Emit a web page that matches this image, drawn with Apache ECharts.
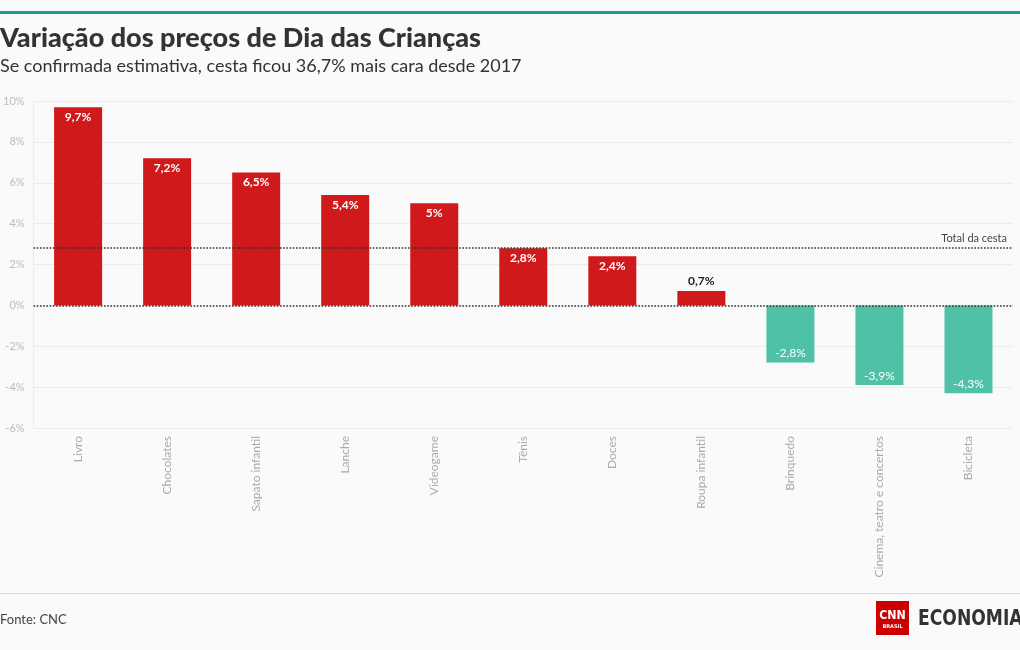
<!DOCTYPE html>
<html>
<head>
<meta charset="utf-8">
<script src="https://cdn.jsdelivr.net/npm/echarts@6/dist/echarts.min.js"></script>
<style>
html,body{margin:0;padding:0;background:#fafafa;}
#c{width:1020px;height:650px;}
</style>
</head>
<body>
<div id="c"></div>
<script>
const categories = ["Livro","Chocolates","Sapato infantil","Lanche","Videogame","Tênis","Doces","Roupa infantil","Brinquedo","Cinema, teatro e concertos","Bicicleta"];
const values = [9.7, 7.2, 6.5, 5.4, 5.0, 2.8, 2.4, 0.7, -2.8, -3.9, -4.3];
const totalCesta = 2.8;
const yTicks = [-6, -4, -2, 0, 2, 4, 6, 8, 10];

const FONT = 'Lato, "Noto Sans", sans-serif';
const fmt = v => String(v).replace('.', ',') + '%';

const chart = echarts.init(document.getElementById('c'), null, {renderer: 'canvas'});

const data = values.map(v => {
  const item = {value: v};
  if (v >= 0) {
    item.itemStyle = {color: '#d0191a'};
    if (v < 1.5) {
      item.label = {show: true, position: 'top', color: '#222', fontWeight: 'bold', distance: 4};
    } else {
      item.label = {show: true, position: 'insideTop', color: '#fff', fontWeight: 'bold', distance: 4};
    }
  } else {
    item.itemStyle = {color: '#4fc1a6'};
    item.label = {show: true, position: 'insideBottom', color: '#fff', fontWeight: 'normal', distance: 3};
  }
  return item;
});

chart.setOption({
  backgroundColor: '#fafafa',
  textStyle: {fontFamily: FONT},
  title: [{
    text: 'Variação dos preços de Dia das Crianças',
    left: 0, top: 25, padding: 0,
    textStyle: {fontFamily: FONT, fontSize: 27, fontWeight: 900, color: '#333'}
  }, {
    text: 'Se confirmada estimativa, cesta ficou 36,7% mais cara desde 2017',
    left: 0, top: 57, padding: 0,
    textStyle: {fontFamily: FONT, fontSize: 18, fontWeight: 'normal', color: '#333'}
  }, {
    text: 'Fonte: CNC',
    left: 0, top: 613, padding: 0,
    textStyle: {fontFamily: FONT, fontSize: 13, fontWeight: 'normal', color: '#444'}
  }],
  grid: {left: 33, right: 7, top: 101, bottom: 222, containLabel: false},
  xAxis: {
    type: 'category',
    data: categories,
    position: 'bottom',
    axisLine: {show: false},
    axisTick: {show: true, alignWithLabel: true, length: 5, lineStyle: {color: '#e3e3e3'}},
    axisLabel: {rotate: 90, color: '#aaa', fontSize: 12, margin: 8, fontFamily: FONT},
    splitLine: {show: false}
  },
  yAxis: {
    type: 'value',
    min: yTicks[0], max: yTicks[yTicks.length - 1], interval: 2,
    axisLine: {show: true, lineStyle: {color: '#ececec'}},
    axisTick: {show: false},
    axisLabel: {color: '#bbb', fontSize: 11, margin: 9, formatter: v => v + '%', fontFamily: FONT},
    splitLine: {show: true, lineStyle: {color: '#ececec'}}
  },
  series: [{
    type: 'bar',
    data: data,
    barWidth: 48,
    label: {show: true, fontSize: 12, fontFamily: FONT, formatter: p => fmt(p.value)},
    markLine: {
      silent: true,
      symbol: 'none',
      lineStyle: {type: 'dotted', color: '#333', width: 1.6},
      label: {show: false},
      data: [
        {yAxis: 0},
        {yAxis: totalCesta, label: {show: true, position: 'insideEndTop', formatter: 'Total da cesta', color: '#444', fontSize: 11, fontFamily: FONT, distance: [6, 4]}}
      ]
    }
  }],
  graphic: [
    {type: 'rect', shape: {x: 0, y: 11, width: 1020, height: 3}, style: {fill: '#1f9d86'}},
    {type: 'rect', shape: {x: 0, y: 593, width: 1020, height: 1}, style: {fill: '#dcdcdc'}},
    {type: 'rect', shape: {x: 876, y: 601, width: 33, height: 34}, style: {fill: '#cc0000'}},
    {type: 'text', x: 892.5, y: 616, scaleX: 0.85, style: {text: 'CNN', fill: '#fff', font: 'bold 13px "DejaVu Sans", sans-serif', textAlign: 'center', textVerticalAlign: 'middle'}},
    {type: 'text', x: 892.5, y: 627, style: {text: 'BRASIL', fill: '#fff', font: 'bold 5px "DejaVu Sans", sans-serif', textAlign: 'center', textVerticalAlign: 'middle'}},
    {type: 'text', x: 918, y: 619, scaleX: 0.78, style: {text: 'ECONOMIA', fill: '#333', font: 'bold 22px "DejaVu Sans", sans-serif', textAlign: 'left', textVerticalAlign: 'middle'}}
  ]
});
</script>
</body>
</html>
